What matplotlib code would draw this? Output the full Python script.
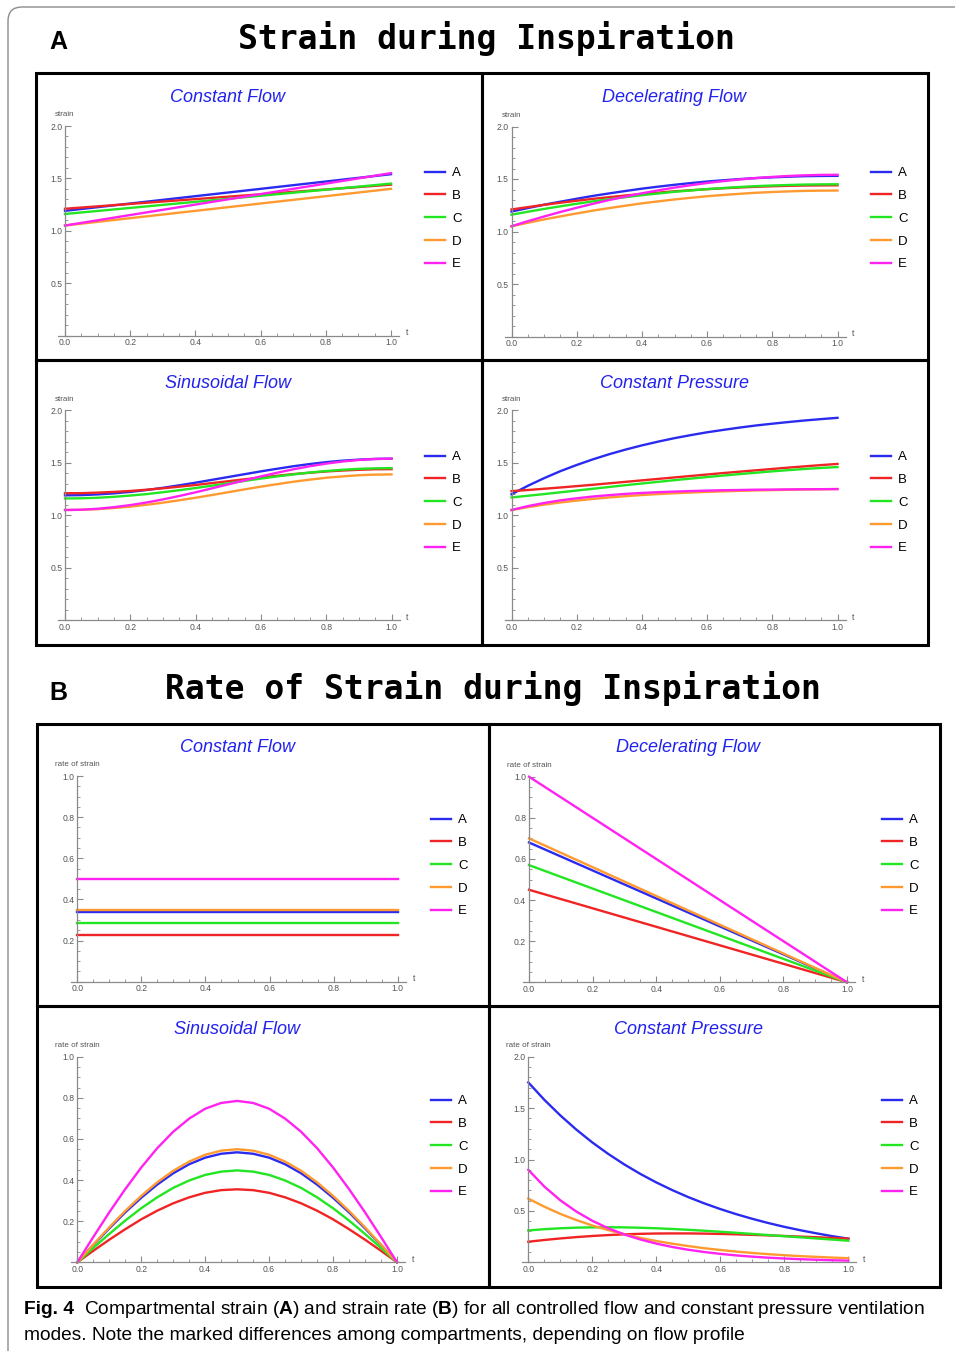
import numpy as np
import matplotlib.pyplot as plt
from matplotlib.patches import Rectangle, FancyBboxPatch
from matplotlib.transforms import Affine2D
from matplotlib.ticker import MultipleLocator, FuncFormatter

plt.rcParams['font.family'] = ['Liberation Sans', 'DejaVu Sans']
plt.rcParams['mathtext.fontset'] = 'custom'
plt.rcParams['mathtext.rm'] = 'Liberation Sans'
plt.rcParams['mathtext.bf'] = 'Liberation Sans:bold'

W, H = 955, 1351

# ---------------- data ----------------
compartments = ['A', 'B', 'C', 'D', 'E']
colors = ['#2b2bf0', '#f02424', '#22e622', '#ff9a30', '#ff22f0']

t_line = [0.0, 1.0]
t = [0.0, 0.05, 0.1, 0.15, 0.2, 0.25, 0.3, 0.35, 0.4, 0.45, 0.5,
     0.55, 0.6, 0.65, 0.7, 0.75, 0.8, 0.85, 0.9, 0.95, 1.0]

# strain during inspiration
strain_const_flow = [[1.19, 1.54], [1.21, 1.44], [1.16, 1.45], [1.05, 1.40], [1.05, 1.55]]
strain_decel_flow = [
    [1.19, 1.223, 1.255, 1.284, 1.312, 1.339, 1.363, 1.386, 1.408, 1.427, 1.445,
     1.461, 1.476, 1.488, 1.499, 1.509, 1.516, 1.522, 1.527, 1.529, 1.53],
    [1.21, 1.232, 1.254, 1.274, 1.293, 1.311, 1.327, 1.343, 1.357, 1.370, 1.383,
     1.393, 1.403, 1.412, 1.419, 1.426, 1.431, 1.435, 1.438, 1.439, 1.44],
    [1.16, 1.188, 1.215, 1.240, 1.264, 1.287, 1.308, 1.327, 1.346, 1.362, 1.378,
     1.391, 1.404, 1.414, 1.424, 1.432, 1.438, 1.443, 1.447, 1.449, 1.45],
    [1.05, 1.083, 1.115, 1.144, 1.172, 1.199, 1.223, 1.246, 1.268, 1.287, 1.305,
     1.321, 1.336, 1.348, 1.359, 1.369, 1.376, 1.382, 1.387, 1.389, 1.39],
    [1.05, 1.098, 1.143, 1.186, 1.226, 1.264, 1.300, 1.333, 1.364, 1.392, 1.418,
     1.441, 1.462, 1.480, 1.496, 1.509, 1.520, 1.529, 1.535, 1.539, 1.54],
]
strain_sine_flow = [
    [1.19, 1.192, 1.199, 1.209, 1.223, 1.241, 1.262, 1.286, 1.311, 1.338, 1.365,
     1.392, 1.419, 1.444, 1.468, 1.489, 1.507, 1.521, 1.531, 1.538, 1.54],
    [1.21, 1.211, 1.216, 1.223, 1.232, 1.244, 1.257, 1.273, 1.289, 1.307, 1.325,
     1.343, 1.361, 1.377, 1.393, 1.406, 1.418, 1.427, 1.434, 1.439, 1.44],
    [1.16, 1.162, 1.167, 1.176, 1.188, 1.202, 1.220, 1.239, 1.260, 1.282, 1.305,
     1.328, 1.350, 1.371, 1.390, 1.408, 1.422, 1.434, 1.443, 1.448, 1.45],
    [1.05, 1.052, 1.058, 1.069, 1.082, 1.100, 1.120, 1.143, 1.167, 1.193, 1.220,
     1.247, 1.273, 1.297, 1.320, 1.340, 1.358, 1.371, 1.382, 1.388, 1.39],
    [1.05, 1.053, 1.062, 1.077, 1.097, 1.122, 1.151, 1.184, 1.219, 1.257, 1.295,
     1.333, 1.371, 1.406, 1.439, 1.468, 1.493, 1.513, 1.528, 1.537, 1.54],
]
strain_const_pres = [
    [1.20, 1.281, 1.354, 1.421, 1.480, 1.534, 1.583, 1.627, 1.667, 1.703, 1.736,
     1.765, 1.792, 1.815, 1.837, 1.857, 1.874, 1.890, 1.905, 1.918, 1.930],
    [1.23, 1.241, 1.253, 1.265, 1.278, 1.291, 1.305, 1.319, 1.333, 1.347, 1.361,
     1.375, 1.389, 1.403, 1.416, 1.429, 1.442, 1.455, 1.467, 1.479, 1.49],
    [1.17, 1.186, 1.202, 1.219, 1.236, 1.253, 1.270, 1.287, 1.303, 1.319, 1.335,
     1.350, 1.365, 1.379, 1.393, 1.406, 1.419, 1.431, 1.442, 1.452, 1.46],
    [1.05, 1.077, 1.101, 1.122, 1.140, 1.156, 1.170, 1.182, 1.193, 1.202, 1.210,
     1.217, 1.223, 1.228, 1.233, 1.237, 1.240, 1.243, 1.246, 1.248, 1.25],
    [1.05, 1.087, 1.117, 1.142, 1.162, 1.179, 1.192, 1.204, 1.213, 1.220, 1.226,
     1.231, 1.235, 1.239, 1.241, 1.244, 1.245, 1.247, 1.248, 1.249, 1.25],
]

# rate of strain during inspiration
rate_const_flow = [[0.34, 0.34], [0.225, 0.225], [0.285, 0.285], [0.35, 0.35], [0.50, 0.50]]
rate_decel_flow = [[0.68, 0.0], [0.45, 0.0], [0.57, 0.0], [0.70, 0.0], [1.00, 0.0]]
rate_sine_flow = [
    [0.0, 0.084, 0.165, 0.243, 0.314, 0.378, 0.433, 0.477, 0.509, 0.528, 0.535,
     0.528, 0.509, 0.477, 0.433, 0.378, 0.314, 0.243, 0.165, 0.084, 0.0],
    [0.0, 0.056, 0.110, 0.161, 0.209, 0.251, 0.287, 0.316, 0.338, 0.351, 0.355,
     0.351, 0.338, 0.316, 0.287, 0.251, 0.209, 0.161, 0.110, 0.056, 0.0],
    [0.0, 0.070, 0.138, 0.203, 0.263, 0.316, 0.362, 0.398, 0.425, 0.441, 0.447,
     0.441, 0.425, 0.398, 0.362, 0.316, 0.263, 0.203, 0.138, 0.070, 0.0],
    [0.0, 0.086, 0.170, 0.250, 0.323, 0.389, 0.445, 0.490, 0.523, 0.543, 0.550,
     0.543, 0.523, 0.490, 0.445, 0.389, 0.323, 0.250, 0.170, 0.086, 0.0],
    [0.0, 0.123, 0.243, 0.356, 0.461, 0.555, 0.635, 0.699, 0.747, 0.775, 0.785,
     0.775, 0.747, 0.699, 0.635, 0.555, 0.461, 0.356, 0.243, 0.123, 0.0],
]
rate_const_pres = [
    [1.75, 1.581, 1.429, 1.291, 1.166, 1.054, 0.952, 0.860, 0.777, 0.702, 0.634,
     0.573, 0.518, 0.468, 0.423, 0.382, 0.345, 0.312, 0.282, 0.254, 0.230],
    [0.20, 0.217, 0.232, 0.245, 0.256, 0.265, 0.272, 0.277, 0.280, 0.281, 0.281,
     0.279, 0.276, 0.272, 0.267, 0.262, 0.256, 0.250, 0.244, 0.237, 0.23],
    [0.31, 0.322, 0.331, 0.337, 0.340, 0.341, 0.340, 0.336, 0.331, 0.324, 0.316,
     0.307, 0.297, 0.287, 0.276, 0.265, 0.254, 0.243, 0.232, 0.221, 0.21],
    [0.62, 0.541, 0.471, 0.411, 0.358, 0.313, 0.273, 0.238, 0.207, 0.181, 0.158,
     0.137, 0.120, 0.104, 0.091, 0.079, 0.069, 0.060, 0.053, 0.046, 0.040],
    [0.90, 0.737, 0.603, 0.494, 0.404, 0.331, 0.271, 0.222, 0.182, 0.149, 0.122,
     0.100, 0.082, 0.067, 0.055, 0.045, 0.037, 0.030, 0.025, 0.020, 0.016],
]

fig = plt.figure(figsize=(W / 100, H / 100), dpi=100)
# image pixel coords (origin top-left)
pxT = Affine2D().scale(1 / 100, -1 / 100).translate(0, H / 100) + fig.dpi_scale_trans


def fmt(v, pos):
    return '' if abs(v) < 1e-9 else '%.1f' % v


def panel(title, ts, series, x0, x1, y0, ytop, ymax, ylab, ystep, leg_x, leg_y, title_y):
    xl, xr = -0.02, 1.025
    left = x0 + xl * (x1 - x0)
    right = x0 + xr * (x1 - x0)
    ax = fig.add_axes([left / W, 1 - y0 / H, (right - left) / W, (y0 - ytop) / H])
    ax.patch.set_visible(False)
    for s, c, lab in zip(series, colors, compartments):
        ax.plot(ts, s, color=c, lw=1.7, label=lab, clip_on=False)
    ax.set_xlim(xl, xr)
    ax.set_ylim(0, ymax)
    ax.spines['left'].set_position(('data', 0))
    for sp in ['top', 'right']:
        ax.spines[sp].set_visible(False)
    for sp in ['left', 'bottom']:
        ax.spines[sp].set_color('#8a8a8a')
        ax.spines[sp].set_linewidth(0.9)
    ax.xaxis.set_major_locator(MultipleLocator(0.2))
    ax.xaxis.set_minor_locator(MultipleLocator(0.05))
    ax.yaxis.set_major_locator(MultipleLocator(ystep))
    ax.yaxis.set_minor_locator(MultipleLocator(ystep / (5 if ystep == 0.5 else 4)))
    ax.xaxis.set_major_formatter(FuncFormatter(lambda v, p: '%.1f' % v))
    ax.yaxis.set_major_formatter(FuncFormatter(fmt))
    ax.tick_params(which='both', direction='in', colors='#8a8a8a', labelcolor='#555555',
                   labelsize=6.2, pad=2)
    ax.tick_params(which='major', length=4, width=0.8)
    ax.tick_params(which='minor', length=2, width=0.6)
    fig.text((x0 + x1) / 2, title_y, title, transform=pxT, ha='center', va='center',
             fontsize=13, style='italic', color='#2222ee')
    fig.text(x0, ytop - 11, ylab, transform=pxT, ha='center', va='center',
             fontsize=5.8, color='#555555')
    fig.text(x1 + 16, y0 - 3, 't', transform=pxT, ha='center', va='center',
             fontsize=6.2, color='#555555')
    ax.legend(loc='upper left', bbox_to_anchor=(leg_x, leg_y), bbox_transform=pxT,
              frameon=False, fontsize=9.5, handlelength=1.55, handletextpad=0.5,
              labelspacing=0.8, borderpad=0, borderaxespad=0)
    return ax


# ---------------- section A ----------------
panel('Constant Flow', t_line, strain_const_flow, 65, 391, 335.5, 126, 2.0, 'strain', 0.5, 425, 167, 98)
panel('Decelerating Flow', t, strain_decel_flow, 511.5, 837.5, 336.5, 126.5, 2.0, 'strain', 0.5, 871, 167, 98)
panel('Sinusoidal Flow', t, strain_sine_flow, 65, 391.5, 620, 410.5, 2.0, 'strain', 0.5, 425, 451, 383)
panel('Constant Pressure', t, strain_const_pres, 511.5, 837.5, 620, 410.5, 2.0, 'strain', 0.5, 871, 451, 383)

# ---------------- section B ----------------
panel('Constant Flow', t_line, rate_const_flow, 77.3, 397.7, 981.7, 776, 1.0, 'rate of strain', 0.2, 431, 814, 748)
panel('Decelerating Flow', t_line, rate_decel_flow, 529, 847, 982.3, 776.7, 1.0, 'rate of strain', 0.2, 882, 814, 748)
panel('Sinusoidal Flow', t, rate_sine_flow, 77.3, 397, 1262.3, 1056.7, 1.0, 'rate of strain', 0.2, 431, 1095, 1029)
panel('Constant Pressure', t, rate_const_pres, 528.3, 848.3, 1262.3, 1056.7, 2.0, 'rate of strain', 0.5, 882, 1095, 1029)

# ---------------- frames and headings ----------------
fig.add_artist(FancyBboxPatch((8, 7), 1000, 1400, boxstyle='round,pad=0,rounding_size=14',
                              transform=pxT, fill=False, ec='#8c8c8c', lw=1.0, clip_on=False))
cells = [(36, 73, 482, 360), (482, 73, 928, 360), (36, 360, 482, 645), (482, 360, 928, 645),
         (37, 724, 489, 1006), (489, 724, 940, 1006), (37, 1006, 489, 1287), (489, 1006, 940, 1287)]
for (xa, ya, xb, yb) in cells:
    fig.add_artist(Rectangle((xa, ya), xb - xa, yb - ya, transform=pxT, fill=False,
                             ec='black', lw=2.2, zorder=5))

fig.text(58, 42, 'A', transform=pxT, ha='center', va='center', fontsize=18, fontweight='bold')
fig.text(58, 693, 'B', transform=pxT, ha='center', va='center', fontsize=18, fontweight='bold')
fig.text(486, 39, 'Strain during Inspiration', transform=pxT, ha='center', va='center',
         fontsize=23.8, fontweight='bold', family='DejaVu Sans Mono')
fig.text(493, 689, 'Rate of Strain during Inspiration', transform=pxT, ha='center', va='center',
         fontsize=23.8, fontweight='bold', family='DejaVu Sans Mono')

fig.text(24, 1309, 'Fig. 4', transform=pxT, ha='left', va='center', fontsize=13.8,
         fontweight='bold')
fig.text(84, 1309, r'Compartmental strain ($\mathbf{A}$) and strain rate ($\mathbf{B}$) for all controlled flow and constant pressure ventilation',
         transform=pxT, ha='left', va='center', fontsize=13.8)
fig.text(24, 1335, 'modes. Note the marked differences among compartments, depending on flow profile',
         transform=pxT, ha='left', va='center', fontsize=13.8)

fig.savefig('out.png', dpi=100)
